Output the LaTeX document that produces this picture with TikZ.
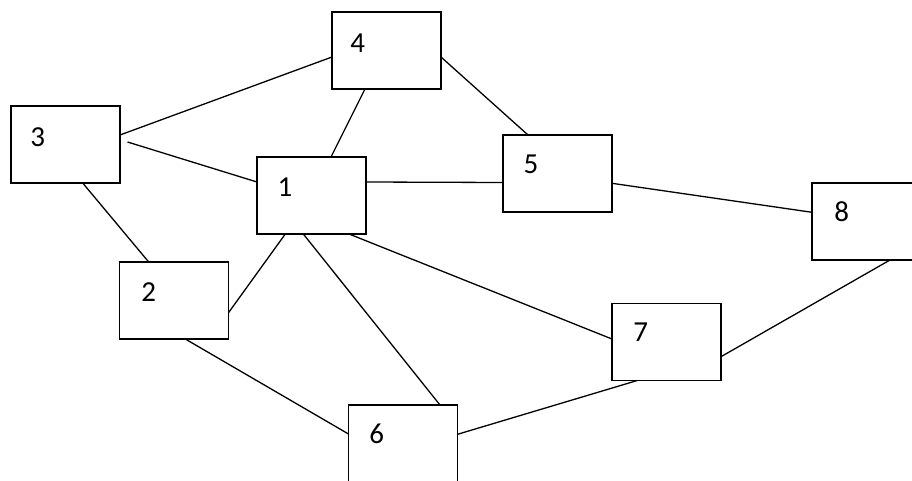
\documentclass[tikz,border=0pt]{standalone}
\usepackage{fontspec}
\setmainfont{Carlito}
\begin{document}
\begin{tikzpicture}[x=1pt,y=-1pt,
  box/.style={draw=black,line width=1.4pt,fill=white,minimum width=109pt,minimum height=77pt,inner sep=0pt,outer sep=0pt},
  lbl/.style={inner sep=0pt,outer sep=0pt,font=\fontsize{29}{29}\selectfont},
  conn/.style={draw=black,line width=1.3pt}]
\useasboundingbox (0,0) rectangle (912,481);
\clip (0,0) rectangle (912,481);
% boxes
\node[box] (n4) at (386.5,50.5) {};
\node[box] (n3) at (65.5,144.5) {};
\node[box] (n1) at (311.5,195.5) {};
\node[box] (n5) at (557.5,173.5) {};
\node[box] (n8) at (866.5,221.5) {};
\node[box] (n2) at (174,300.5) {};
\node[box] (n7) at (666.5,342) {};
\node[box] (n6) at (403,443.5) {};
% labels
\node[lbl] (l1) at (285,187) {1};
\node[lbl] (l2) at (148.7,291.7) {2};
\node[lbl] (l3) at (37.8,137) {3};
\node[lbl] (l4) at (357.6,43) {4};
\node[lbl] (l5) at (531,164) {5};
\node[lbl] (l6) at (376.7,434) {6};
\node[lbl] (l7) at (640.7,332) {7};
\node[lbl] (l8) at (841.7,211.7) {8};
% connectors
\draw[conn] ([yshift=9.5pt]n3.east) -- ([yshift=-6.5pt]n4.west);
\draw[conn] ([xshift=7.5pt,yshift=2.5pt]n3.east) -- ([yshift=13.5pt]n1.west);
\draw[conn] ([xshift=-21.5pt]n4.south) -- ([xshift=19.5pt]n1.north);
\draw[conn] ([yshift=-6.5pt]n4.east) -- ([xshift=-29.5pt]n5.north);
\draw[conn] ([yshift=13.5pt]n1.east) -- ([yshift=-9pt]n5.west);
\draw[conn] ([yshift=-9.8pt]n5.east) -- ([yshift=9.2pt]n8.west);
\draw[conn] ([xshift=17.2pt]n3.south) -- ([xshift=-25.3pt]n2.north);
\draw[conn] ([xshift=-26.2pt]n1.south) -- ([yshift=-12.2pt]n2.east);
\draw[conn] ([xshift=-8.2pt]n1.south) -- ([xshift=37pt]n6.north);
\draw[conn] ([xshift=37.5pt]n1.south) -- ([yshift=3pt]n7.west);
\draw[conn] ([xshift=11.3pt]n2.south) -- ([yshift=9.5pt]n6.west);
\draw[conn] ([yshift=9.2pt]n6.east) -- ([xshift=-29.2pt]n7.south);
\draw[conn] ([yshift=-14.7pt]n7.east) -- ([xshift=23.5pt]n8.south);
\end{tikzpicture}
\end{document}
